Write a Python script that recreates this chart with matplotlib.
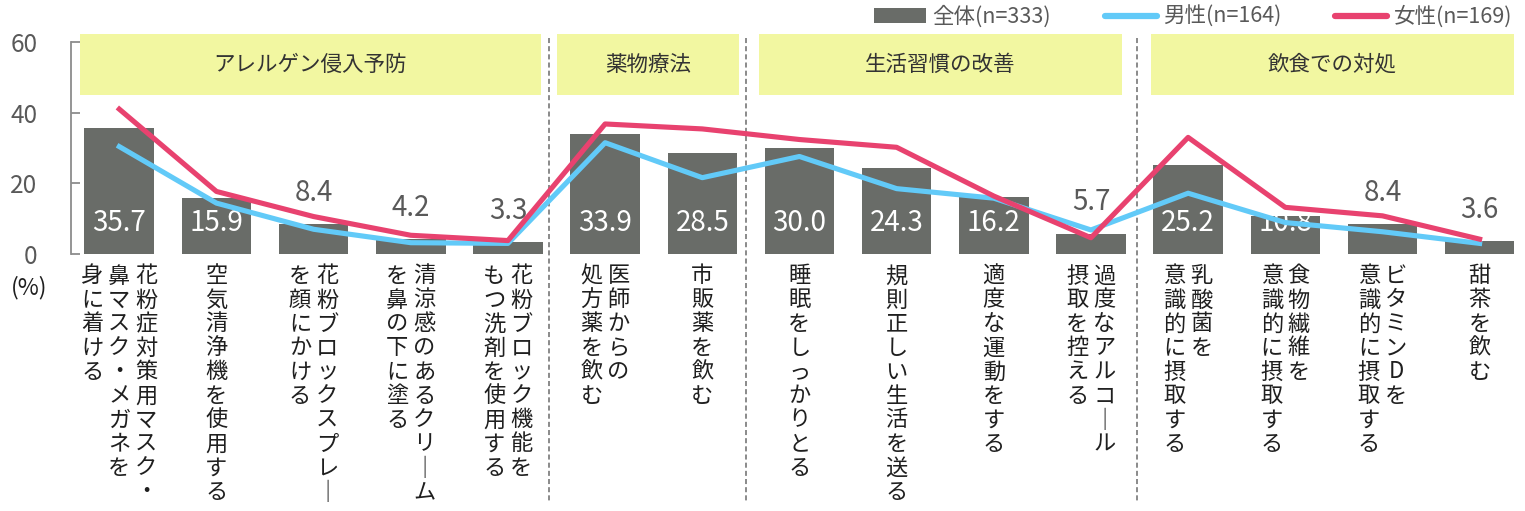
"""
花粉症対策の実施率 — 全体バー + 男女別ライン
"""
import numpy as np
import matplotlib
matplotlib.use("Agg")
import matplotlib.pyplot as plt
import matplotlib.transforms as mtransforms
from matplotlib.patches import Rectangle
from matplotlib.lines import Line2D

plt.rcParams['font.family'] = ['Noto Sans CJK JP', 'DejaVu Sans']

# ─── Data ──────────────────────────────────────────────────────────────────────

# category labels, already split into vertical columns (right column first)
categories = [
    ["花粉症対策用マスク・", "鼻マスク・メガネを", "身に着ける"],
    ["空気清浄機を使用する"],
    ["花粉ブロックスプレー", "を顔にかける"],
    ["清涼感のあるクリーム", "を鼻の下に塗る"],
    ["花粉ブロック機能を", "もつ洗剤を使用する"],
    ["医師からの", "処方薬を飲む"],
    ["市販薬を飲む"],
    ["睡眠をしっかりとる"],
    ["規則正しい生活を送る"],
    ["適度な運動をする"],
    ["過度なアルコール", "摂取を控える"],
    ["乳酸菌を", "意識的に摂取する"],
    ["食物繊維を", "意識的に摂取する"],
    ["ビタミンDを", "意識的に摂取する"],
    ["甜茶を飲む"],
]
total = [35.7, 15.9, 8.4, 4.2, 3.3, 33.9, 28.5, 30.0, 24.3, 16.2, 5.7, 25.2, 10.8, 8.4, 3.6]
male = [30.4, 14.4, 7.0, 3.2, 3.0, 31.5, 21.6, 27.6, 18.5, 15.8, 6.8, 17.2, 8.9, 6.3, 3.0]
female = [41.0, 17.7, 10.6, 5.3, 3.8, 36.8, 35.4, 32.4, 30.2, 16.4, 4.6, 33.0, 13.2, 10.8, 4.2]

series_labels = ["全体(n=333)", "男性(n=164)", "女性(n=169)"]

groups = ["アレルゲン侵入予防", "薬物療法", "生活習慣の改善", "飲食での対処"]

yticks = [0, 20, 40, 60]

# ─── Style ─────────────────────────────────────────────────────────────────────

BAR_C = "#696C68"
BLUE = "#62CAF8"
RED = "#E8426F"
YELLOW = "#F2F7A1"
GRAY_TXT = "#595959"
DARK_TXT = "#1f1f1f"

W, H, DPI = 1525, 511, 100
PX = 72 / DPI  # points per pixel

fig = plt.figure(figsize=(W / DPI, H / DPI), dpi=DPI)
ax = fig.add_axes([70.7 / W, 1 - 254 / H, 1 - 70.7 / W, (254 - 42) / H])

x = np.arange(len(total))
ax.bar(x, total, width=0.716, color=BAR_C, zorder=2)
ax.plot(x, male, color=BLUE, lw=3.7, solid_joinstyle="round", zorder=5)
ax.plot(x, female, color=RED, lw=3.7, solid_joinstyle="round", zorder=6)

# bar value labels: inside (white) for big bars, above (gray) for small ones
for i, v in enumerate(total):
    if v >= 10:
        ax.text(i, 8.8, f"{v:.1f}", color="white", ha="center", va="center",
                fontsize=20, zorder=4)
    else:
        ax.text(i, v + 8.9, f"{v:.1f}", color=GRAY_TXT, ha="center", va="center",
                fontsize=20, zorder=4)

ax.set_xlim(-0.5, 14.467)
ax.set_ylim(0, 60)
ax.set_xticks([])
ax.set_yticks(yticks)
ax.tick_params(axis="y", direction="in", length=9 * PX, width=1.3, color="#8c8c8c",
               labelsize=17.5, labelcolor=GRAY_TXT, pad=33 * PX)
for s in ["top", "right", "bottom"]:
    ax.spines[s].set_visible(False)
ax.spines["left"].set_color("#8c8c8c")
ax.spines["left"].set_linewidth(1.3)

fig.text(29 / W, 1 - 288 / H, "(%)", ha="center", va="center", fontsize=16.5, color=DARK_TXT)

# group header boxes + dashed separators
box_edges = [(-0.407, 4.339), (4.503, 6.377), (6.586, 10.316), (10.618, 14.354)]
for name, (x0, x1) in zip(groups, box_edges):
    ax.add_patch(Rectangle((x0, 45.0), x1 - x0, 17.27, facecolor=YELLOW, edgecolor="none",
                           clip_on=False, zorder=1))
    ax.text((x0 + x1) / 2, 53.6, name, ha="center", va="center", fontsize=15.5,
            color="#333333", zorder=2)

blend = mtransforms.blended_transform_factory(ax.transData, fig.transFigure)
for xd in [4.424, 6.449, 10.47]:
    ax.plot([xd, xd], [1 - 38 / H, 0.02], transform=blend, color="#8a8a8a", lw=1.4,
            ls=(0, (2.6, 1.6)), clip_on=False, zorder=1)

# vertical category labels, one character at a time
col_step = 27
char_pitch = 24
for i, cols in enumerate(categories):
    n = len(cols)
    for j, col in enumerate(cols):
        dx = ((n - 1) / 2 - j) * col_step
        for k, ch in enumerate(col):
            if ch == "ー":
                ch = "｜"
            ax.annotate(ch, xy=(i, 0), xycoords=("data", "axes fraction"),
                        xytext=(dx * PX, -(22 + k * char_pitch) * PX),
                        textcoords="offset points", ha="center", va="center",
                        fontsize=16, color=DARK_TXT, annotation_clip=False)

# legend
handles = [
    Rectangle((0, 0), 1, 1, facecolor=BAR_C, edgecolor="none"),
    Line2D([], [], color=BLUE, lw=4.5, solid_capstyle="round"),
    Line2D([], [], color=RED, lw=4.5, solid_capstyle="round"),
]
fig.legend(handles, series_labels, loc="center right", bbox_to_anchor=(1512 / W, 1 - 17 / H),
           ncol=3, frameon=False, fontsize=15.5, handlelength=2.4, handleheight=0.65,
           columnspacing=2.5, handletextpad=0.3, labelcolor=GRAY_TXT,
           borderpad=0, borderaxespad=0)

fig.savefig("out.png", dpi=DPI)
